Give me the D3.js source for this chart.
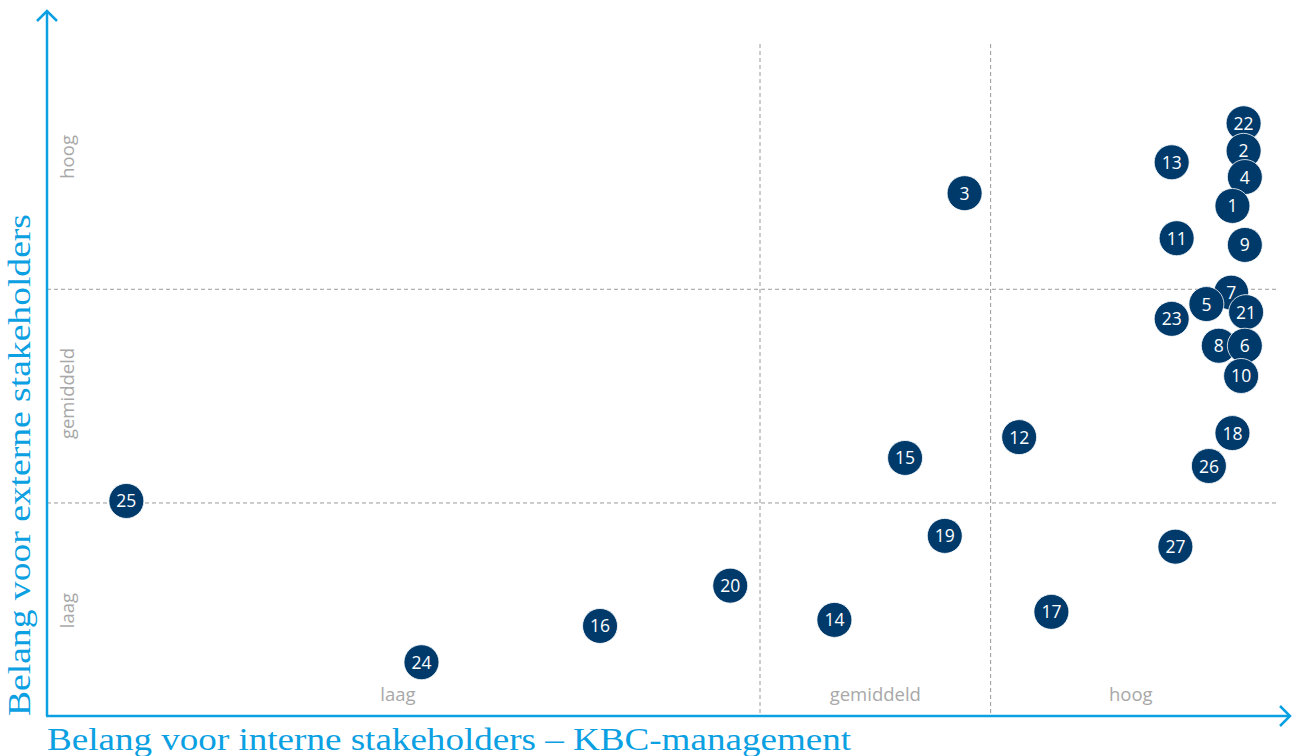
<!DOCTYPE html>
<html>
<head>
<meta charset="utf-8">
<script src="https://cdn.jsdelivr.net/npm/d3@7"></script>
<style>
  html, body { margin: 0; padding: 0; background: #fff; }
  svg { display: block; }
</style>
</head>
<body>
<svg id="chart" width="1294" height="756"></svg>
<script>
// ---- data ----
const ids     = [22, 2, 4, 1, 13, 3, 11, 9, 7, 5, 21, 23, 8, 6, 10, 18, 12, 15, 26, 25, 19, 27, 20, 17, 14, 16, 24];
const internal = [96.5, 96.5, 96.6, 95.6, 90.7, 74.0, 91.1, 96.6, 95.5, 93.5, 96.7, 90.7, 94.5, 96.6, 96.3, 95.6, 78.4, 69.2, 93.7, 6.4, 72.4, 91.0, 55.1, 81.0, 63.5, 44.6, 30.2];
const external = [88.2, 84.1, 80.2, 75.9, 82.4, 77.8, 71.1, 70.1, 63.0, 61.3, 60.1, 59.1, 55.1, 55.1, 50.6, 42.1, 41.5, 38.4, 37.2, 32.0, 26.8, 25.2, 19.4, 15.5, 14.3, 13.4, 8.0];
const xBounds = [57.5, 76.1];
const yBounds = [31.7, 63.5];
const xLevelLabels = ["laag", "gemiddeld", "hoog"];
const yLevelLabels = ["laag", "gemiddeld", "hoog"];
const xTitle = "Belang voor interne stakeholders – KBC-management";
const yTitle = "Belang voor externe stakeholders";

// ---- drawing ----
const svg = d3.select("#chart");
const BLUE = "#0aa0e2";
const NAVY = "#003a6a";
const GREY = "#a8a8a8";
const DASH = "#9a9a9a";

const x = d3.scaleLinear().domain([0, 100]).range([47, 1287]);
const y = d3.scaleLinear().domain([0, 100]).range([716, 44]);

// dashed grid lines
const grid = svg.append("g");
grid.selectAll("line.v").data(xBounds).enter().append("line")
  .attr("x1", d => x(d)).attr("x2", d => x(d))
  .attr("y1", y(100)).attr("y2", y(0))
  .attr("stroke", DASH).attr("stroke-width", 1).attr("stroke-dasharray", "4,3");
grid.selectAll("line.h").data(yBounds).enter().append("line")
  .attr("y1", d => y(d)).attr("y2", d => y(d))
  .attr("x1", x(0)).attr("x2", x(99.3))
  .attr("stroke", DASH).attr("stroke-width", 1).attr("stroke-dasharray", "4,3");

// level labels on x
const xLabelCenters = [x(28.3), x(66.8), x(87.4)];
svg.selectAll("text.xl").data(xLevelLabels).enter().append("text")
  .attr("x", (d, i) => xLabelCenters[i]).attr("y", 701)
  .attr("text-anchor", "middle")
  .attr("font-family", "'Open Sans', sans-serif").attr("font-size", 18.5)
  .attr("fill", GREY).text(d => d);

// level labels on y
const yLabelCenters = [y(15.7), y(48.0), y(83.2)];
svg.selectAll("text.yl").data(yLevelLabels).enter().append("text")
  .attr("transform", (d, i) => `translate(74,${yLabelCenters[i]}) rotate(-90)`)
  .attr("text-anchor", "middle")
  .attr("font-family", "'Open Sans', sans-serif").attr("font-size", 18.5)
  .attr("fill", GREY).text(d => d);

// axes with arrows
const axes = svg.append("g").attr("stroke", BLUE).attr("stroke-width", 2.5).attr("fill", "none");
axes.append("path").attr("d", `M${x(0)},${y(0)} L${x(0)},11`);
axes.append("path").attr("d", `M${x(0) - 10},21 L${x(0)},11 L${x(0) + 10},21`);
axes.append("path").attr("d", `M${x(0) - 1},${y(0)} L1290,${y(0)}`);
axes.append("path").attr("d", `M1280,${y(0) - 10} L1290,${y(0)} L1280,${y(0) + 10}`);

// axis titles
svg.append("text")
  .attr("x", 47).attr("y", 750)
  .attr("font-family", "'Liberation Serif', serif").attr("font-size", 31)
  .attr("textLength", 804).attr("lengthAdjust", "spacingAndGlyphs")
  .attr("fill", BLUE).text(xTitle);
svg.append("text")
  .attr("transform", "translate(30,716) rotate(-90)")
  .attr("font-family", "'Liberation Serif', serif").attr("font-size", 31)
  .attr("textLength", 502).attr("lengthAdjust", "spacingAndGlyphs")
  .attr("fill", BLUE).text(yTitle);

// points
const pts = ids.map((id, i) => ({ id, ix: internal[i], ex: external[i] }))
  .sort((a, b) => b.ex - a.ex);
const g = svg.selectAll("g.pt").data(pts).enter().append("g")
  .attr("transform", d => `translate(${x(d.ix)},${y(d.ex)})`);
g.append("circle").attr("r", 17.5).attr("fill", NAVY).attr("stroke", "#fff").attr("stroke-width", 0.8);
g.append("text").attr("text-anchor", "middle").attr("dy", "0.37em")
  .attr("font-family", "'Open Sans', sans-serif").attr("font-size", 17.5)
  .attr("fill", "#fff").text(d => d.id);
</script>
</body>
</html>
